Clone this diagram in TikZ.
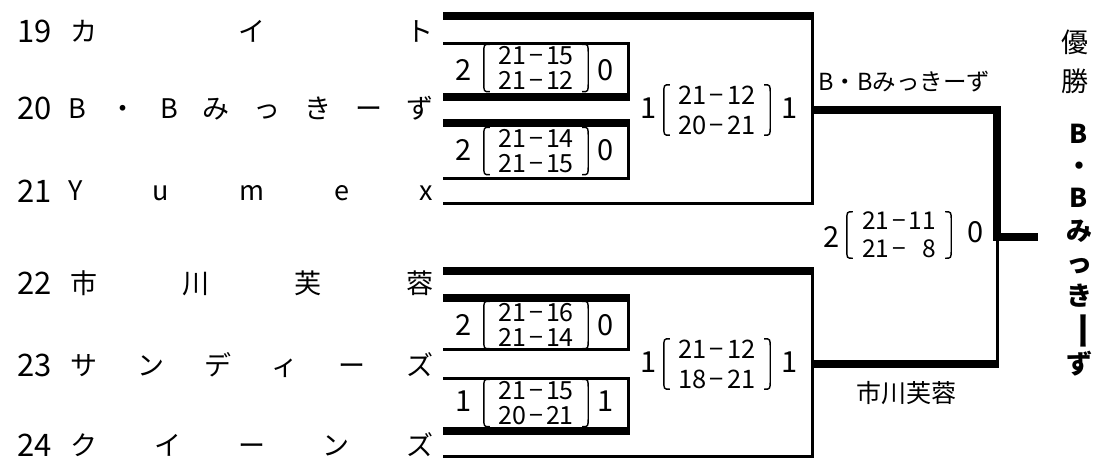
\documentclass[tikz,border=0pt]{standalone}
\usepackage{fontspec}
\usepackage{graphicx}
\setmainfont{Noto Sans CJK JP}
\newcommand\mn{\makebox[0.8em]{−}}
\tikzset{
  wline/.style={line width=8pt},
  nline/.style={line width=3pt},
  pline/.style={line width=1.4pt},
  tnum/.style={font=\fontsize{31}{31}\selectfont, inner sep=0pt, anchor=west},
  tname/.style={font=\fontsize{27}{27}\selectfont, inner sep=0pt, anchor=west},
  sc/.style={font=\fontsize{25}{25}\selectfont, align=center, inner sep=0pt, minimum width=104pt, minimum height=47pt},
  scm/.style={font=\fontsize{25.5}{30}\selectfont, align=center, inner sep=0pt, minimum width=106pt, minimum height=50pt},
  scf/.style={font=\fontsize{24.5}{28}\selectfont, align=center, inner sep=0pt, minimum width=104pt, minimum height=44pt},
  snum/.style={font=\fontsize{29}{29}\selectfont, inner sep=0pt},
  lbl/.style={font=\fontsize{23.5}{23.5}\selectfont, inner sep=0pt},
  win/.style={font=\fontsize{26}{32.4}\selectfont\bfseries, align=center, inner sep=0pt},
}
\newcommand\brk[1]{%
  \draw[pline] ([xshift=6pt]#1.north west) .. controls (#1.north west) .. ([yshift=-9pt]#1.north west)
    -- ([yshift=9pt]#1.south west) .. controls (#1.south west) .. ([xshift=6pt]#1.south west);
  \draw[pline] ([xshift=-6pt]#1.north east) .. controls (#1.north east) .. ([yshift=-9pt]#1.north east)
    -- ([yshift=9pt]#1.south east) .. controls (#1.south east) .. ([xshift=-6pt]#1.south east);
}
\begin{document}
\begin{tikzpicture}[x=1pt,y=-1pt]
\useasboundingbox (0,0) rectangle (1100,458);

% team names
\node[tnum] (n19) at (17,31) {19};
\node[tname] (t19) at (70,31) {\hbox to 363pt{カ\hfill イ\hfill ト}};
\node[tnum] (n20) at (17,108) {20};
\node[tname] (t20) at (68,108) {\hbox to 365pt{B\hfill ・\hfill B\hfill み\hfill っ\hfill き\hfill ー\hfill ず}};
\node[tnum] (n21) at (17,191) {21};
\node[tname] (t21) at (68,191) {\hbox to 365pt{Y\hfill u\hfill m\hfill e\hfill x}};
\node[tnum] (n22) at (17,283) {22};
\node[tname] (t22) at (70,283) {\hbox to 363pt{市\hfill 川\hfill 芙\hfill 蓉}};
\node[tnum] (n23) at (17,365) {23};
\node[tname] (t23) at (70,365) {\hbox to 363pt{サ\hfill ン\hfill デ\hfill ィ\hfill ー\hfill ズ}};
\node[tnum] (n24) at (17,445) {24};
\node[tname] (t24) at (70,445) {\hbox to 363pt{ク\hfill イ\hfill ー\hfill ン\hfill ズ}};

% first round scores
\node[sc] (s1) at (536,68) {21\mn15\\21\mn12}; \brk{s1}
\node[snum] (s1l) at (464,70) {2}; \node[snum] (s1r) at (606,70) {0};
\node[sc] (s2) at (536,151) {21\mn14\\21\mn15}; \brk{s2}
\node[snum] (s2l) at (464,150) {2}; \node[snum] (s2r) at (606,150) {0};
\node[sc] (s3) at (536,325) {21\mn16\\21\mn14}; \brk{s3}
\node[snum] (s3l) at (464,325) {2}; \node[snum] (s3r) at (606,325) {0};
\node[sc] (s4) at (536,403) {21\mn15\\20\mn21}; \brk{s4}
\node[snum] (s4l) at (464,401) {1}; \node[snum] (s4r) at (606,401) {1};

% semi-final scores
\node[scm] (m1) at (717,110) {21\mn12\\20\mn21}; \brk{m1}
\node[snum] (m1l) at (649,108) {1}; \node[snum] (m1r) at (790,108) {1};
\node[scm] (m2) at (717,364) {21\mn12\\18\mn21}; \brk{m2}
\node[snum] (m2l) at (649,362) {1}; \node[snum] (m2r) at (790,362) {1};

% final score
\node[scf] (f) at (899,235) {21\mn11\\21\mn\phantom{1}8}; \brk{f}
\node[snum] (fl) at (832,237) {2}; \node[snum] (fr) at (976,232) {0};

% labels
\node[lbl, anchor=west] (w1) at (818,82) {B・Bみっきーず};
\node[lbl, font=\fontsize{25}{25}\selectfont] (w2) at (906,393) {市川芙蓉};
\node[font=\fontsize{27}{39}\selectfont, align=center, inner sep=0pt] (yu) at (1075,62) {優\\勝};
\node[win] (champ) at (1079,250) {B\\・\\B\\み\\っ\\き\\\rotatebox[origin=c]{-90}{\scalebox{1.5}[1.1]{ー}}\\ず};

% bracket lines (upper block)
\draw[wline] (443,16) -- (813.5,16);
\draw[nline] (812,16) |- (443,203);
\draw[nline] (443,43) -| (628,97);
\draw[wline] (443,97) -- (629.5,97);
\draw[wline] (443,123) -- (629.5,123);
\draw[nline] (628,123) |- (443,178);
\draw[wline] (812,110) -| (997,237) -- (1038,237);
% lower block
\draw[wline] (443,271) -- (813.5,271);
\draw[nline] (812,271) |- (443,456);
\draw[wline] (443,298) -- (629.5,298);
\draw[nline] (628,298) |- (443,349);
\draw[nline] (443,378) -| (628,431);
\draw[wline] (443,431) -- (629.5,431);
\draw[wline] (812,364) -- (998.5,364);
\draw[nline] (997,237) -- (997,364);
\end{tikzpicture}
\end{document}
